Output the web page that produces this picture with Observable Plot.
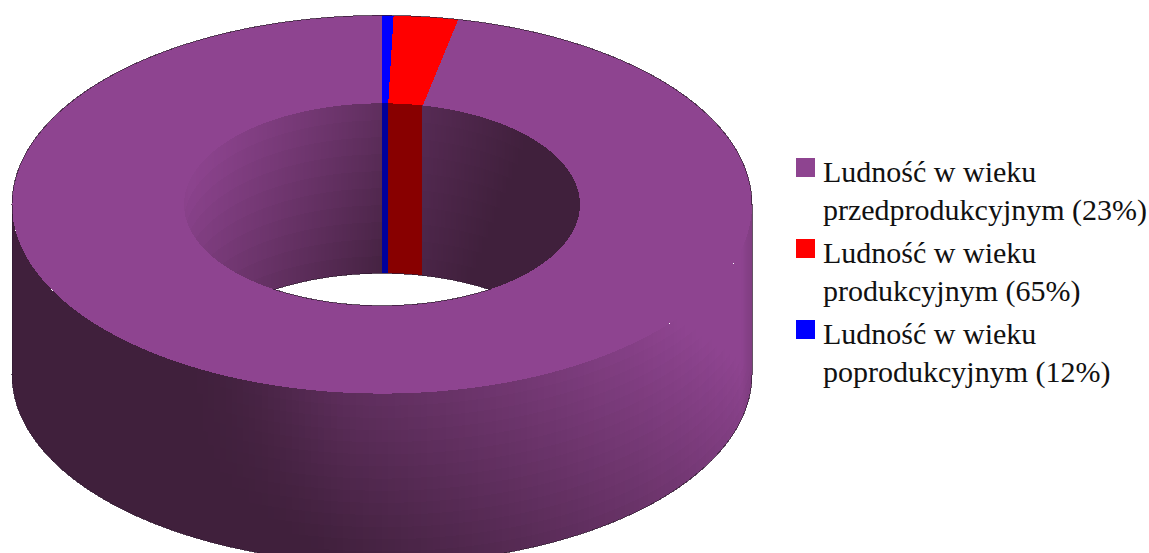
<!DOCTYPE html>
<html lang="pl">
<head>
<meta charset="utf-8">
<script src="https://cdn.jsdelivr.net/npm/d3@7"></script>
<script src="https://cdn.jsdelivr.net/npm/@observablehq/plot@0.6"></script>
<style>
  html, body { margin: 0; padding: 0; background: #fff; overflow: hidden; }
  #chart { position: relative; width: 1149px; height: 553px; }
  #chart svg { display: block; position: absolute; left: 0; top: 0; background: #fff; }
  #legend { position: absolute; left: 796px; top: 153px; font-family: "Liberation Serif", serif; font-size: 30px; line-height: 37.5px; color: #111; white-space: nowrap; }
  #legend .entry { position: relative; padding-left: 27px; margin-bottom: 6px; }
  #legend .sw { position: absolute; left: 0; top: 5px; width: 19px; height: 19px; }
</style>
</head>
<body>
<div id="chart"></div>
<script>
// Slice shares as drawn in the picture (degrees clockwise from 12 o'clock)
const sliceNames = ["poprodukcyjny", "produkcyjny", "przedprodukcyjny"];
const sliceDegrees = [1.8, 10.1, 348.1];
const sliceTop = ["#0000ff", "#ff0000", "#8e4490"];
const sliceInner = ["#00009c", "#880000", null];

// Legend
const legendFirst = ["Ludność w wieku", "Ludność w wieku", "Ludność w wieku"];
const legendSecond = ["przedprodukcyjnym (23%)", "produkcyjnym (65%)", "poprodukcyjnym (12%)"];
const legendColors = ["#8e4490", "#ff0000", "#0000ff"];

// Ring shape, in units of the outer radius
const innerRadius = 0.535;
const tilt = 0.511;
const depth = 0.4595;
const mix = d3.interpolateRgb("#40203c", "#8e4490");
const clamp01 = (t) => Math.max(0, Math.min(1, t));
const smooth = (e0, e1, x) => { const s = clamp01((x - e0) / (e1 - e0)); return s * s * (3 - 2 * s); };
const rad = (d) => d * Math.PI / 180;
const px = (r, a) => r * Math.sin(rad(a));
const py = (r, a) => -r * tilt * Math.cos(rad(a));

// Cumulative slice bounds
let acc = 0;
const slices = sliceNames.map((name, i) => {
  const s = { name, start: acc, end: acc + sliceDegrees[i], top: sliceTop[i], inner: sliceInner[i] };
  acc = s.end;
  return s;
});

const cells = [];
let nextId = 0;
function poly(points, color) {
  const id = nextId++;
  for (const [x, y] of points) cells.push({ id, x, y, color });
}

// Outer wall (front half, strips in angle, rows in depth)
const rows = 14;
for (let a = 90; a < 270; a += 1) {
  for (let k = 0; k < rows; k++) {
    const d0 = depth * k / rows, d1 = depth * (k + 1) / rows;
    const xa = px(1, a), xb = px(1, a + 1);
    const ya = py(1, a), yb = py(1, a + 1);
    const u = (xa + xb) / 2, v = (ya + yb) / 2 + (d0 + d1) / 2;
    let t = clamp01(0.845 + 0.518 * u - 0.814 * v) * smooth(-0.55, -0.05, u);
    if (u > 0.97) t *= 1 - (u - 0.97) * 6;
    poly([[xa, ya + d0], [xb, yb + d0], [xb, yb + d1], [xa, ya + d1]], mix(t));
  }
}

// Inner wall (back half, cut at the near rim of the hole)
const innerColor = (a, u, v) => {
  const norm = ((a % 360) + 360) % 360;
  for (const s of slices) if (norm >= s.start && norm < s.end && s.inner) return s.inner;
  const t = a < 0
    ? 0.2 - 1.4 * u - 0.777 * v
    : 0.297 - 0.925 * u - 0.37 * v;
  return mix(clamp01(t));
};
const innerStep = 0.2;
const innerRows = 10;
for (let a = -90; a < 90 - 1e-6; a += innerStep) {
  const b = a + innerStep;
  const limitA = -py(innerRadius, a), limitB = -py(innerRadius, b);
  for (let k = 0; k < innerRows; k++) {
    const d0 = depth * k / innerRows, d1 = depth * (k + 1) / innerRows;
    const xa = px(innerRadius, a), xb = px(innerRadius, b);
    const ya = py(innerRadius, a), yb = py(innerRadius, b);
    const y = (d, ym, lim) => Math.min(ym + d, lim);
    const u = (xa + xb) / 2, v = (ya + yb) / 2 + (d0 + d1) / 2;
    poly([[xa, y(d0, ya, limitA)], [xb, y(d0, yb, limitB)], [xb, y(d1, yb, limitB)], [xa, y(d1, ya, limitA)]],
      innerColor(a + innerStep / 2, u, v));
  }
}

// Top face wedges
for (const s of slices) {
  const n = Math.max(2, Math.ceil(s.end - s.start));
  const outer = d3.range(n + 1).map((i) => {
    const a = s.start + (s.end - s.start) * i / n;
    return [px(1, a), py(1, a)];
  });
  const inner = d3.range(n, -1, -1).map((i) => {
    const a = s.start + (s.end - s.start) * i / n;
    return [px(innerRadius, a), py(innerRadius, a)];
  });
  poly(outer.concat(inner), s.top);
}

// Outlines
const edges = [];
function edge(points) {
  const id = edges.length ? edges[edges.length - 1].id + 1 : 0;
  for (const [x, y] of points) edges.push({ id, x, y });
}
edge(d3.range(-90, 91).map((a) => [px(1, a), py(1, a)]));
edge(d3.range(90, 271).map((a) => [px(1, a), py(1, a) + depth]));
edge([[1, 0], [1, depth]]);
edge([[-1, 0], [-1, depth]]);
const meet = Math.acos(depth / (2 * innerRadius * tilt)) * 180 / Math.PI;
edge(d3.range(-meet, meet + 0.5, 1).map((a) => [px(innerRadius, a), py(innerRadius, a) + depth]));
edge(d3.range(180 - meet, 180 + meet + 0.5, 1).map((a) => [px(innerRadius, a), py(innerRadius, a)]));

const plot = Plot.plot({
  width: 1149,
  height: 553,
  margin: 0,
  x: { domain: [-381.5 / 370, (1149 - 381.5) / 370], range: [0, 1149], axis: null },
  y: { domain: [-204 / 370, 349 / 370], range: [0, 553], axis: null },
  color: { type: "identity" },
  marks: [
    Plot.line(cells, { x: "x", y: "y", z: "id", fill: "color", stroke: "none", shapeRendering: "crispEdges" }),
    Plot.line(edges, { x: "x", y: "y", z: "id", stroke: "#321a32", strokeWidth: 1, strokeOpacity: 0.75, shapeRendering: "crispEdges" })
  ]
});
document.getElementById("chart").appendChild(plot);

const legend = document.createElement("div");
legend.id = "legend";
legendFirst.forEach((first, i) => {
  const entry = document.createElement("div");
  entry.className = "entry";
  const sw = document.createElement("span");
  sw.className = "sw";
  sw.style.background = legendColors[i];
  entry.appendChild(sw);
  const line1 = document.createElement("div");
  line1.textContent = first;
  const line2 = document.createElement("div");
  line2.textContent = legendSecond[i];
  entry.appendChild(line1);
  entry.appendChild(line2);
  legend.appendChild(entry);
});
document.getElementById("chart").appendChild(legend);
</script>
</body>
</html>
